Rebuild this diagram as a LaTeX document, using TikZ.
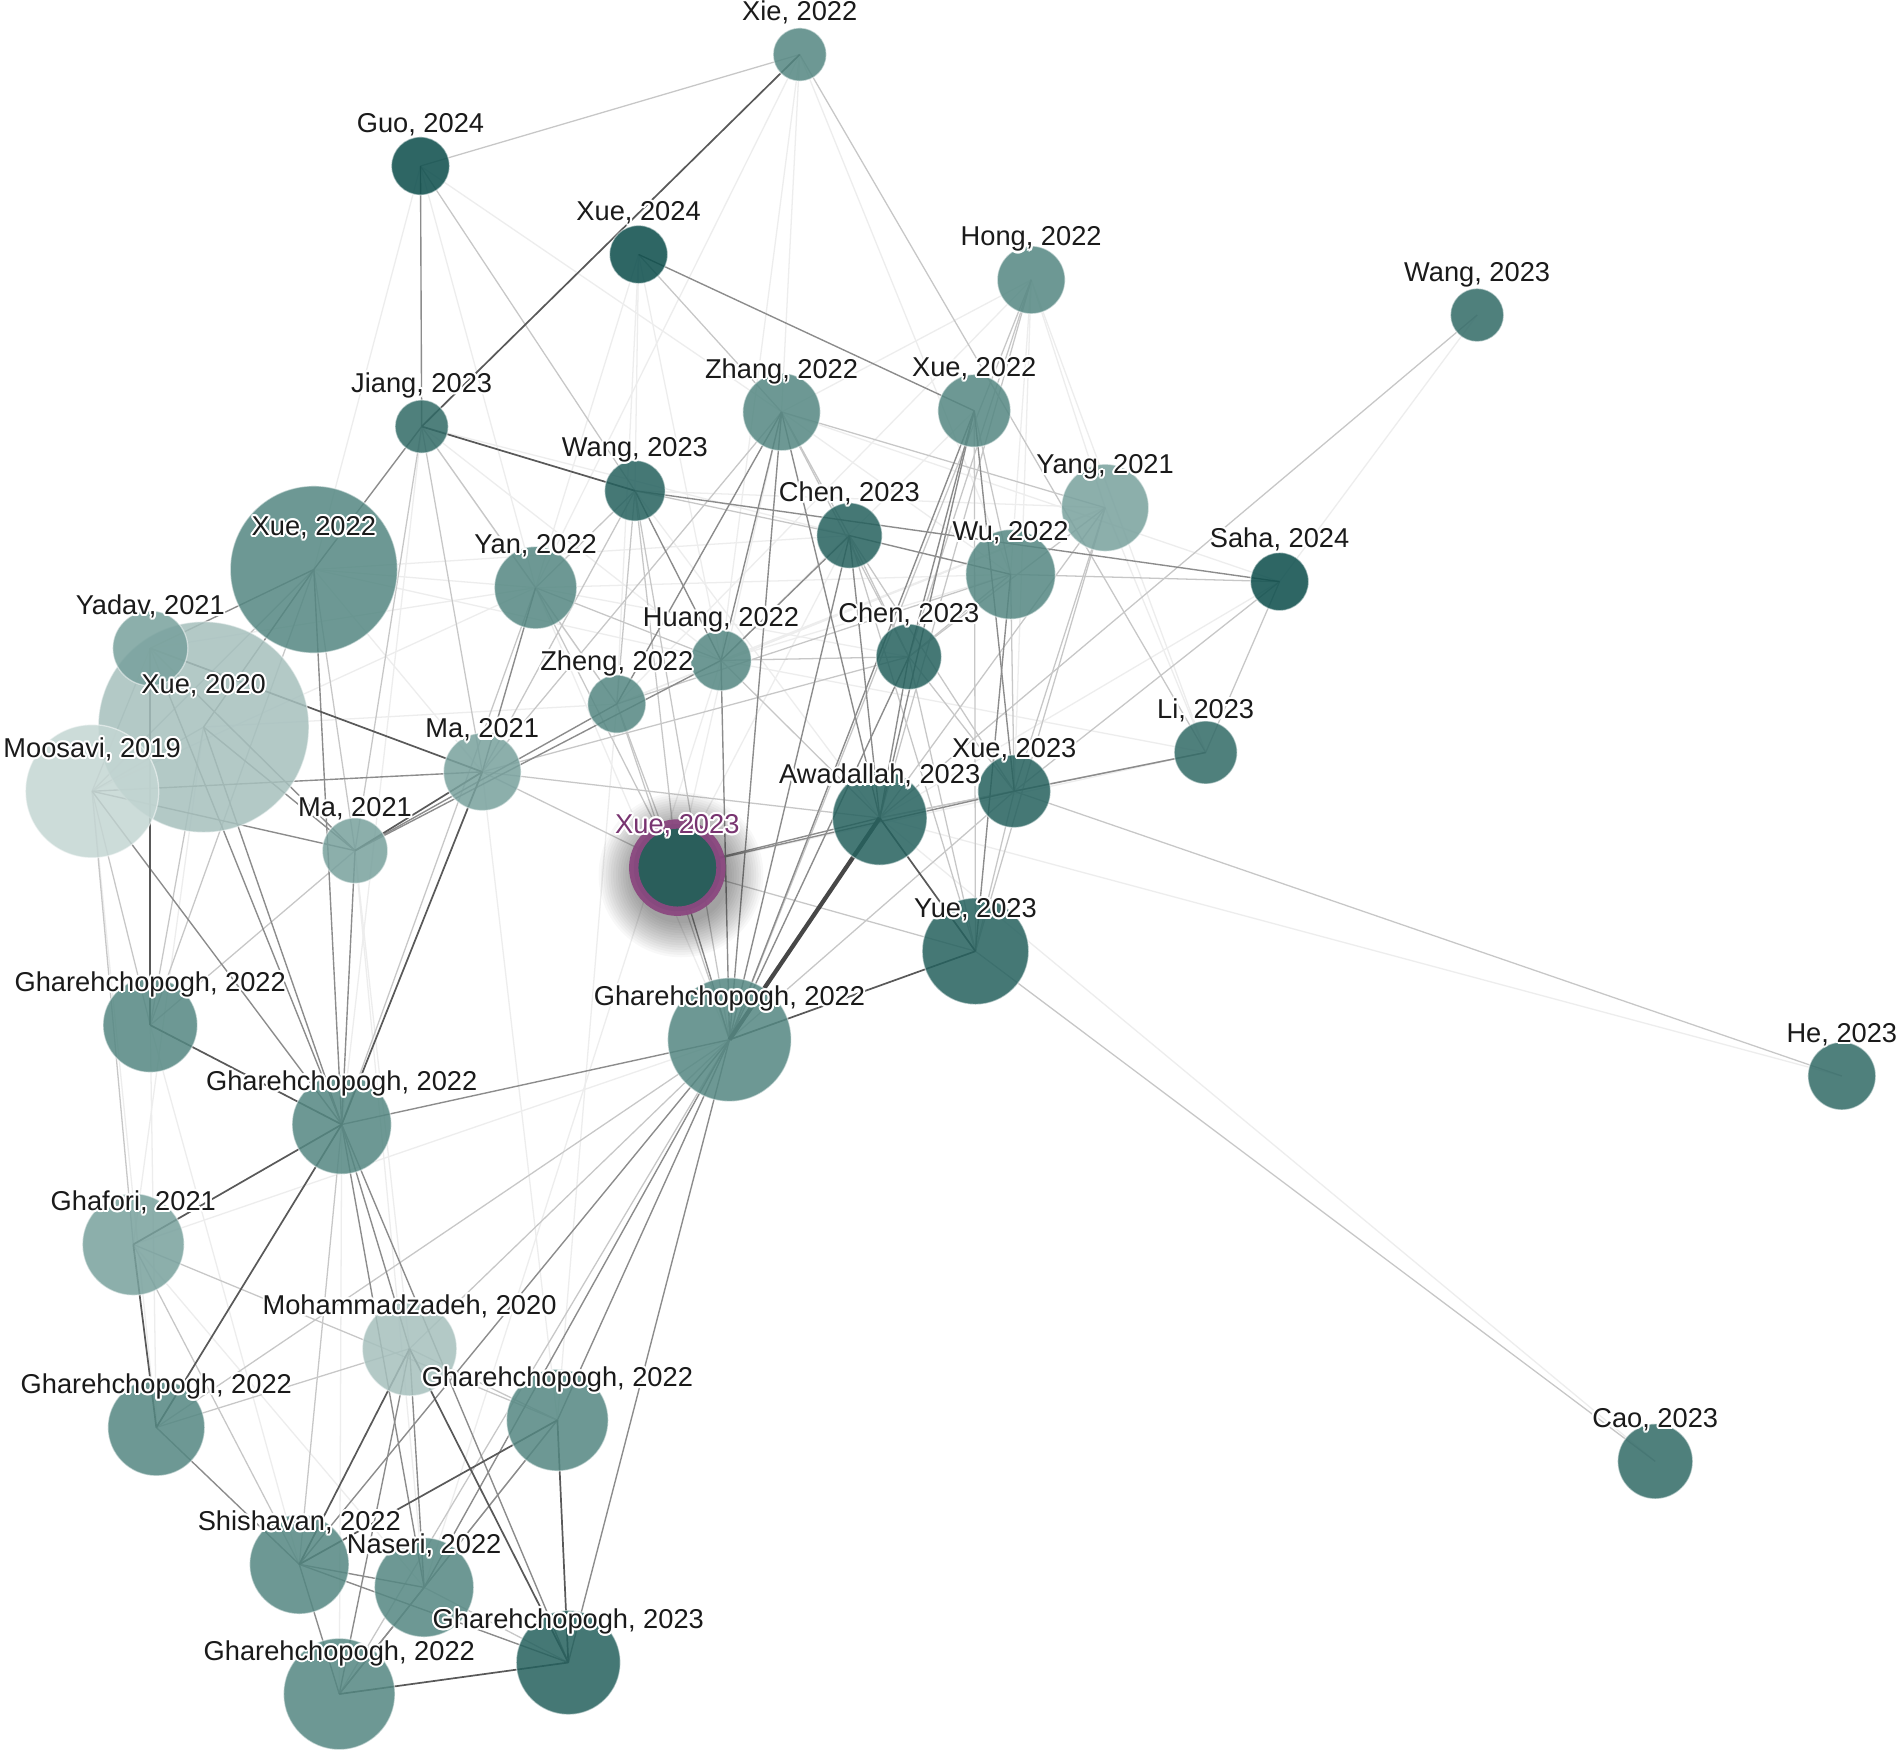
\documentclass[tikz,border=0pt]{standalone}
\usepackage{fontspec}
\setmainfont{Liberation Sans}
\usetikzlibrary{calc}
\pgfdeclarelayer{back}
\pgfdeclarelayer{edges}
\pgfsetlayers{back,edges,main}
\definecolor{cA}{RGB}{10,76,74}
\definecolor{cB}{RGB}{49,106,102}
\definecolor{cBd}{RGB}{37,97,94}
\definecolor{cC}{RGB}{84,135,130}
\definecolor{cD}{RGB}{120,161,157}
\definecolor{cE}{RGB}{166,192,189}
\definecolor{cF}{RGB}{196,214,211}
\definecolor{hiNode}{RGB}{42,94,91}
\definecolor{hiRing}{RGB}{139,72,128}
\definecolor{hiText}{RGB}{120,52,112}
\definecolor{txt}{RGB}{26,26,26}
\tikzset{
  pnode/.style={circle, inner sep=0pt, fill opacity=0.85, draw=white, draw opacity=0.5, line width=0.6pt},
  lbl/.style={inner sep=0pt, anchor=base, font=\fontsize{12.8}{14}\selectfont},
  ef/.style={draw=black!7, line width=0.6pt},
  el/.style={draw=black!22, line width=0.6pt},
  em/.style={draw=black!45, line width=0.65pt},
  ed/.style={draw=black!65, line width=0.8pt},
  eX/.style={draw=black!72, line width=2pt},
}
\newcommand\pn[5]{\node[pnode, fill=#5, minimum size=#4*0.04cm] (#1) at (#2,#3) {};}
\newcommand\plabel[3][txt]{%
  \foreach \ang in {0,30,...,330}{\node[lbl, text=white] at ($(#2)+(0,-28)+(\ang:1.7)$) {#3};}
  \node[lbl, text=#1] (#2-l) at ($(#2)+(0,-28)$) {#3};}
\begin{document}
\begin{tikzpicture}[x=0.02cm, y=-0.02cm]
\begin{pgfonlayer}{back}
\fill[white] (0,0) rectangle (1568,1449);
\end{pgfonlayer}
\useasboundingbox (0,0) rectangle (1568,1449);
% nodes
\pn{xue20}{168}{600}{87}{cE}
\pn{moosavi}{76}{653}{55}{cF}
\pn{yadav}{124}{535}{31}{cD}
\pn{xue22a}{259}{470}{69}{cC}
\pn{xie}{660}{45}{22}{cC}
\pn{guo}{347}{137}{24}{cA}
\pn{xue24}{527}{210}{24}{cA}
\pn{hong}{851}{231}{28}{cC}
\pn{wangR}{1219}{260}{22}{cB}
\pn{jiang}{348}{352}{22}{cB}
\pn{zhang}{645}{340}{32}{cC}
\pn{xue22b}{804}{339}{30}{cC}
\pn{wang23}{524}{405}{25}{cBd}
\pn{yang}{912}{419}{36}{cD}
\pn{chen23a}{701}{442}{27}{cBd}
\pn{wu}{834}{474}{37}{cC}
\pn{yan}{442}{485}{34}{cC}
\pn{saha}{1056}{480}{24}{cA}
\pn{huang}{595}{545}{25}{cC}
\pn{chen23b}{750}{542}{27}{cBd}
\pn{zheng}{509}{581}{24}{cC}
\pn{ma21a}{398}{637}{32}{cD}
\pn{ma21b}{293}{702}{27}{cD}
\pn{li}{995}{621}{26}{cB}
\pn{xue23r}{837}{653}{30}{cBd}
\pn{awad}{726}{675}{39}{cBd}
\pn{yue}{805}{785}{44}{cBd}
\pn{gcen}{602}{858}{51}{cC}
\pn{he}{1520}{888}{28}{cB}
\pn{gleft}{124}{846}{39}{cC}
\pn{gmid}{282}{928}{41}{cC}
\pn{ghafori}{110}{1027}{42}{cD}
\pn{moham}{338}{1113}{39}{cE}
\pn{gll}{129}{1178}{40}{cC}
\pn{grl}{460}{1172}{42}{cC}
\pn{cao}{1366}{1206}{31}{cB}
\pn{shish}{247}{1291}{41}{cC}
\pn{naseri}{350}{1310}{41}{cC}
\pn{g23}{469}{1372}{43}{cBd}
\pn{gbot}{280}{1398}{46}{cC}
% highlighted node with soft shadow
\foreach \rr in {40,42,...,68}{\fill[black, opacity=0.028] (562,722) circle (\rr);}
\node[circle, inner sep=0pt, minimum size=72*0.02cm, fill=hiNode, draw=hiRing, draw opacity=0.95, line width=4.4pt] (xue23) at (559,716) {};
% edges
\begin{pgfonlayer}{edges}
\foreach \a/\b in {xie/zhang, xie/yan, xie/wu, guo/zhang, guo/yan, xue24/wang23, xue24/yan, xue24/huang,
  hong/zheng, hong/zhang, hong/yang, hong/li, hong/xue23r, wangR/saha, jiang/gmid, jiang/zheng, jiang/huang,
  zhang/xue23, xue22b/huang, wang23/awad, yang/li, yang/huang, yang/zheng, chen23a/xue23,
  wu/huang, xue22a/yan, xue22a/ma21a, saha/awad, gcen/ghafori, gmid/gbot, zhang/saha, zhang/wu,
  xie/huang, guo/xue22a, xue24/zheng, hong/wu, yan/chen23b, xue22a/huang, yadav/yan, moosavi/yan,
  xue20/zheng, moosavi/gll, gleft/gll, ghafori/naseri, gleft/shish, xue20/ghafori, ma21b/moham,
  ma21a/grl, ma21b/naseri, zheng/grl, huang/naseri, yan/gcen, xue22a/chen23a, jiang/chen23a,
  wang23/yang, yan/wu, zheng/yang, huang/li, xue23/li, awad/he, awad/cao}
  {\draw[ef] (\a.center) -- (\b.center);}
\foreach \a/\b in {xie/guo, xie/li, guo/wang23, xue24/zhang, hong/chen23b, hong/awad, hong/gcen, wangR/awad,
  jiang/yan, jiang/ma21a, jiang/ma21b, zhang/chen23a, zhang/ma21a, zhang/yang, zhang/chen23b,
  xue22b/yue, xue22b/wu, wang23/yan, wang23/zheng, wang23/chen23a, wang23/gcen, wang23/xue23, wang23/ma21a,
  yang/chen23b, yang/xue23r, yang/yue, yang/awad, chen23a/chen23b, chen23a/xue23r, chen23a/yue,
  wu/saha, wu/xue23r, wu/chen23b, wu/zheng, xue22a/moosavi, xue22a/ma21b, xue22a/gleft,
  yan/zheng, yan/huang, yan/gmid, yan/xue23, saha/li, saha/xue23r, yadav/moosavi,
  huang/chen23b, huang/awad, chen23b/ma21a, chen23b/yue, chen23b/xue23r, zheng/xue23, zheng/gcen,
  xue20/moosavi, xue20/gleft, moosavi/gleft, moosavi/ghafori, ma21a/xue23, ma21a/awad, ma21b/gleft,
  li/awad, xue23r/awad, xue23r/he, xue23r/yue, xue23r/gcen, xue23/yue, yue/cao, gcen/moham, gcen/gbot, gcen/gll,
  gmid/shish, ghafori/grl, ghafori/shish, gll/moham, moham/grl, grl/naseri, naseri/g23}
  {\draw[el] (\a.center) -- (\b.center);}
\foreach \a/\b in {guo/jiang, xue24/xue22b, jiang/xue22a, zhang/huang, zhang/zheng, zhang/awad, zhang/gcen,
  xue22b/chen23b, xue22b/awad, xue22b/gcen, xue22b/xue23r, wang23/saha, wang23/huang,
  chen23a/wu, chen23a/huang, chen23a/awad, chen23a/gcen, wu/yue, xue22a/yadav, xue22a/xue20, xue22a/gmid,
  yan/ma21a, yadav/ma21b, yadav/gmid, huang/ma21b, huang/gcen, chen23b/awad, chen23b/gcen,
  zheng/ma21b, xue20/gmid, xue20/ma21b, moosavi/ma21a, moosavi/ma21b, moosavi/gmid, ma21b/gmid,
  li/xue23r, xue23r/xue23, awad/xue23, xue23/gcen, gcen/gmid, gcen/grl, gcen/naseri, gcen/shish, gcen/g23,
  gmid/naseri, gmid/moham, gmid/g23, gll/shish, moham/gbot, moham/naseri, grl/gbot,
  shish/naseri, shish/gbot, shish/g23, naseri/gbot}
  {\draw[em] (\a.center) -- (\b.center);}
\foreach \a/\b in {xie/jiang, jiang/wang23, yadav/ma21a, yadav/gleft, ma21a/ma21b, ma21a/gmid,
  awad/yue, yue/gcen, gleft/gmid, gmid/ghafori, gmid/gll, ghafori/gll, moham/shish, moham/g23,
  grl/g23, grl/shish, gbot/g23}
  {\draw[ed] (\a.center) -- (\b.center);}
\draw[eX] (awad.center) -- (gcen.center);
\end{pgfonlayer}
% labels
\plabel{xie}{Xie, 2022}
\plabel{guo}{Guo, 2024}
\plabel{xue24}{Xue, 2024}
\plabel{hong}{Hong, 2022}
\plabel{wangR}{Wang, 2023}
\plabel{jiang}{Jiang, 2023}
\plabel{zhang}{Zhang, 2022}
\plabel{xue22b}{Xue, 2022}
\plabel{wang23}{Wang, 2023}
\plabel{yang}{Yang, 2021}
\plabel{chen23a}{Chen, 2023}
\plabel{wu}{Wu, 2022}
\plabel{xue22a}{Xue, 2022}
\plabel{yan}{Yan, 2022}
\plabel{saha}{Saha, 2024}
\plabel{yadav}{Yadav, 2021}
\plabel{huang}{Huang, 2022}
\plabel{chen23b}{Chen, 2023}
\plabel{zheng}{Zheng, 2022}
\plabel{xue20}{Xue, 2020}
\plabel{moosavi}{Moosavi, 2019}
\plabel{ma21a}{Ma, 2021}
\plabel{ma21b}{Ma, 2021}
\plabel{li}{Li, 2023}
\plabel{xue23r}{Xue, 2023}
\plabel{awad}{Awadallah, 2023}
\plabel[hiText]{xue23}{Xue, 2023}
\plabel{yue}{Yue, 2023}
\plabel{gcen}{Gharehchopogh, 2022}
\plabel{he}{He, 2023}
\plabel{gleft}{Gharehchopogh, 2022}
\plabel{gmid}{Gharehchopogh, 2022}
\plabel{ghafori}{Ghafori, 2021}
\plabel{moham}{Mohammadzadeh, 2020}
\plabel{gll}{Gharehchopogh, 2022}
\plabel{grl}{Gharehchopogh, 2022}
\plabel{cao}{Cao, 2023}
\plabel{shish}{Shishavan, 2022}
\plabel{naseri}{Naseri, 2022}
\plabel{g23}{Gharehchopogh, 2023}
\plabel{gbot}{Gharehchopogh, 2022}
\end{tikzpicture}
\end{document}
